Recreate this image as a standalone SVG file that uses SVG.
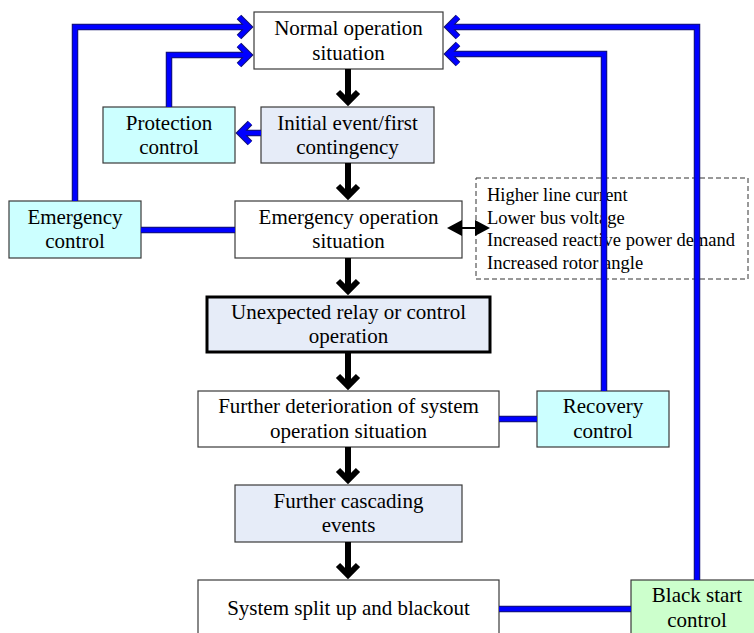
<svg xmlns="http://www.w3.org/2000/svg" width="754" height="633" viewBox="0 0 754 633">
<style>
  .box { stroke: #3a3a3a; stroke-width: 1.2; }
  .white { fill: #ffffff; }
  .event { fill: #e6ecf8; }
  .ctrl { fill: #ccffff; }
  .green { fill: #ccffcc; }
  .thick { stroke: #000000; stroke-width: 3; }
  text { font-family: "Liberation Serif", "Times New Roman", serif; font-size: 21px; fill: #000000; }
  .c { text-anchor: middle; }
  .list text { font-size: 18.5px; }
  .bo { fill: none; stroke: #14146e; stroke-width: 6.5; stroke-linejoin: miter; stroke-linecap: butt; }
  .bi { fill: none; stroke: #0000ff; stroke-width: 4.5; stroke-linejoin: miter; stroke-linecap: butt; }
  .blk { fill: none; stroke: #000000; stroke-width: 6; stroke-linejoin: miter; stroke-linecap: butt; }
</style>

<g id="normal">
  <rect class="box white" x="254" y="12" width="189" height="57"/>
  <text class="c" x="348.5" y="35">Normal operation</text>
  <text class="c" x="348.5" y="60">situation</text>
</g>
<g id="initial">
  <rect class="box event" x="261" y="107" width="173" height="56"/>
  <text class="c" x="347.5" y="130">Initial event/first</text>
  <text class="c" x="347.5" y="154">contingency</text>
</g>
<g id="protection">
  <rect class="box ctrl" x="103" y="107" width="132" height="56"/>
  <text class="c" x="169" y="130">Protection</text>
  <text class="c" x="169" y="154">control</text>
</g>
<g id="emergency-control">
  <rect class="box ctrl" x="9" y="201" width="132" height="57"/>
  <text class="c" x="75" y="223.5">Emergency</text>
  <text class="c" x="75" y="248">control</text>
</g>
<g id="emergency-op">
  <rect class="box white" x="235" y="201" width="227" height="57"/>
  <text class="c" x="348.5" y="223.5">Emergency operation</text>
  <text class="c" x="348.5" y="248">situation</text>
</g>
<g id="symptoms" class="list">
  <rect x="476" y="178" width="272" height="101" fill="#ffffff" stroke="#333333" stroke-width="1" stroke-dasharray="5,3"/>
  <text x="487" y="201">Higher line current</text>
  <text x="487" y="223.5">Lower bus voltage</text>
  <text x="487" y="246">Increased reactive power demand</text>
  <text x="487" y="268.5">Increased rotor angle</text>
</g>
<g id="unexpected">
  <rect class="event thick" x="207" y="297" width="283" height="55"/>
  <text class="c" x="348.5" y="318.5">Unexpected relay or control</text>
  <text class="c" x="348.5" y="343">operation</text>
</g>
<g id="deterioration">
  <rect class="box white" x="198" y="391" width="301" height="56"/>
  <text class="c" x="348.5" y="413">Further deterioration of system</text>
  <text class="c" x="348.5" y="438">operation situation</text>
</g>
<g id="recovery">
  <rect class="box ctrl" x="537" y="391" width="132" height="56"/>
  <text class="c" x="603" y="413">Recovery</text>
  <text class="c" x="603" y="438">control</text>
</g>
<g id="cascading">
  <rect class="box event" x="235" y="485" width="227" height="57"/>
  <text class="c" x="348.5" y="507.5">Further cascading</text>
  <text class="c" x="348.5" y="532">events</text>
</g>
<g id="blackout">
  <rect class="box white" x="198" y="580" width="301" height="70"/>
  <text class="c" x="348.5" y="615">System split up and blackout</text>
</g>
<g id="blackstart">
  <rect class="box green" x="631" y="580" width="132" height="70"/>
  <text class="c" x="697" y="602">Black start</text>
  <text class="c" x="697" y="627">control</text>
</g>

<g id="connectors">
  <!-- black flow arrows -->
  <path class="blk" d="M348,69 V102 M338,92 L348,102 L358,92"/>
  <path class="blk" d="M348,163 V196 M338,186 L348,196 L358,186"/>
  <path class="blk" d="M348,258 V291 M338,281 L348,291 L358,281"/>
  <path class="blk" d="M348,353 V386 M338,376 L348,386 L358,376"/>
  <path class="blk" d="M348,447 V480 M338,470 L348,480 L358,470"/>
  <path class="blk" d="M348,542 V575 M338,565 L348,575 L358,565"/>
  <!-- double arrow to symptoms -->
  <path d="M460,228 H478" stroke="#000000" stroke-width="2" fill="none"/>
  <polygon points="447,228 462,220 462,236" fill="#000000"/>
  <polygon points="490,228 475,220 475,236" fill="#000000"/>
  <!-- blue control connectors: outlines -->
  <path class="bo" d="M75,201 V27 H249 M239,17 L249,27 L239,37"/>
  <path class="bo" d="M169,107 V55 H249 M239,45 L249,55 L239,65"/>
  <path class="bo" d="M261,133 H240 M250,123 L240,133 L250,143"/>
  <path class="bo" d="M141,230 H235"/>
  <path class="bo" d="M604,391 V54 H448 M458,44 L448,54 L458,64"/>
  <path class="bo" d="M697,580 V27 H448 M458,17 L448,27 L458,37"/>
  <path class="bo" d="M499,419 H537"/>
  <path class="bo" d="M499,609 H631"/>
  <!-- blue control connectors: fill -->
  <path class="bi" d="M75,201 V27 H249 M239,17 L249,27 L239,37"/>
  <path class="bi" d="M169,107 V55 H249 M239,45 L249,55 L239,65"/>
  <path class="bi" d="M261,133 H240 M250,123 L240,133 L250,143"/>
  <path class="bi" d="M141,230 H235"/>
  <path class="bi" d="M604,391 V54 H448 M458,44 L448,54 L458,64"/>
  <path class="bi" d="M697,580 V27 H448 M458,17 L448,27 L458,37"/>
  <path class="bi" d="M499,419 H537"/>
  <path class="bi" d="M499,609 H631"/>
</g>
</svg>
